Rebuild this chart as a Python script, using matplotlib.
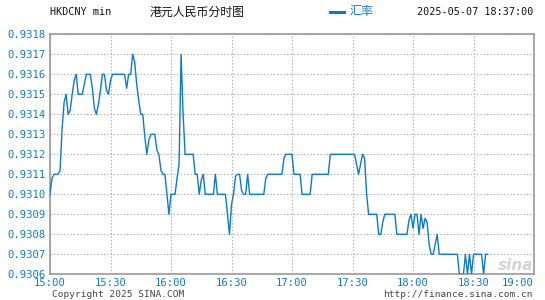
import numpy as np
import matplotlib
matplotlib.use("Agg")
import matplotlib.pyplot as plt

# HKD/CNY minute rate from 15:00, one value per minute
rates = [
    0.93100, 0.93108, 0.93110, 0.93110, 0.93110, 0.93112, 0.93133, 0.93146, 0.93150, 0.93140,
    0.93142, 0.93150, 0.93157, 0.93160, 0.93150, 0.93150, 0.93150, 0.93155, 0.93160, 0.93160,
    0.93160, 0.93153, 0.93143, 0.93140, 0.93145, 0.93152, 0.93160, 0.93160, 0.93152, 0.93150,
    0.93157, 0.93160, 0.93160, 0.93160, 0.93160, 0.93160, 0.93160, 0.93160, 0.93153, 0.93160,
    0.93160, 0.93170, 0.93166, 0.93155, 0.93147, 0.93140, 0.93140, 0.93129, 0.93120, 0.93127,
    0.93130, 0.93130, 0.93130, 0.93122, 0.93120, 0.93112, 0.93110, 0.93110, 0.93100, 0.93090,
    0.93100, 0.93100, 0.93100, 0.93108, 0.93115, 0.93170, 0.93140, 0.93120, 0.93120, 0.93120,
    0.93120, 0.93120, 0.93110, 0.93110, 0.93100, 0.93107, 0.93110, 0.93100, 0.93100, 0.93100,
    0.93100, 0.93100, 0.93110, 0.93100, 0.93100, 0.93100, 0.93100, 0.93100, 0.93090, 0.93080,
    0.93095, 0.93100, 0.93109, 0.93110, 0.93110, 0.93102, 0.93100, 0.93100, 0.93110, 0.93100,
    0.93100, 0.93100, 0.93100, 0.93100, 0.93100, 0.93100, 0.93100, 0.93108, 0.93110, 0.93110,
    0.93110, 0.93110, 0.93110, 0.93110, 0.93110, 0.93110, 0.93118, 0.93120, 0.93120, 0.93120,
    0.93120, 0.93110, 0.93110, 0.93110, 0.93110, 0.93100, 0.93100, 0.93100, 0.93100, 0.93100,
    0.93110, 0.93110, 0.93110, 0.93110, 0.93110, 0.93110, 0.93110, 0.93110, 0.93110, 0.93120,
    0.93120, 0.93120, 0.93120, 0.93120, 0.93120, 0.93120, 0.93120, 0.93120, 0.93120, 0.93120,
    0.93120, 0.93120, 0.93115, 0.93110, 0.93115, 0.93120, 0.93118, 0.93100, 0.93090, 0.93090,
    0.93090, 0.93090, 0.93090, 0.93080, 0.93080, 0.93086, 0.93090, 0.93090, 0.93090, 0.93090,
    0.93090, 0.93090, 0.93080, 0.93080, 0.93080, 0.93080, 0.93080, 0.93080, 0.93087, 0.93090,
    0.93083, 0.93090, 0.93090, 0.93080, 0.93090, 0.93083, 0.93088, 0.93086, 0.93075, 0.93070,
    0.93070, 0.93075, 0.93080, 0.93070, 0.93070, 0.93070, 0.93070, 0.93070, 0.93070, 0.93070,
    0.93070, 0.93070, 0.93070, 0.93060, 0.93060, 0.93060, 0.93070, 0.93060, 0.93070, 0.93060,
    0.93070, 0.93070, 0.93070, 0.93070, 0.93070, 0.93060, 0.93070, 0.93070,
]

y_ticks = [0.9306, 0.9307, 0.9308, 0.9309, 0.9310, 0.9311, 0.9312,
           0.9313, 0.9314, 0.9315, 0.9316, 0.9317, 0.9318]
x_tick_minutes = [0, 30, 60, 90, 120, 150, 180, 210, 240]
x_tick_labels = ["15:00", "15:30", "16:00", "16:30", "17:00",
                 "17:30", "18:00", "18:30", "19:00"]

BLUE = "#0a7acc"
GRID = "#aaaaaa"
MONO = "DejaVu Sans Mono"
CJK = ["Noto Sans CJK SC", "DejaVu Sans"]

W, H = 545, 300
fig = plt.figure(figsize=(W / 100, H / 100), dpi=100)
fig.patch.set_facecolor("white")

left, right, top, bottom = 50, 534, 34.3, 274.3
ax = fig.add_axes([left / W, 1 - bottom / H, (right - left) / W, (bottom - top) / H])

minutes = np.arange(len(rates))
ax.plot(minutes, rates, color=BLUE, linewidth=1.0, zorder=3)

ax.set_xlim(0, 240)
ax.set_ylim(y_ticks[0], y_ticks[-1])
ax.set_xticks(x_tick_minutes)
ax.set_xticklabels(x_tick_labels)
ax.set_yticks(y_ticks)
ax.set_yticklabels([f"{v:.4f}" for v in y_ticks])
ax.tick_params(length=0, pad=3, labelcolor=BLUE, labelsize=7.6)
for lab in ax.get_xticklabels() + ax.get_yticklabels():
    lab.set_family(MONO)
ax.tick_params(axis="x", pad=3)
# last time label sits inside the frame
ax.get_xticklabels()[-1].set_ha("right")

ax.grid(True, color=GRID, linestyle=(0, (1.2, 1.8)), linewidth=0.8)
for s in ax.spines.values():
    s.set_color("#999999")
    s.set_linewidth(1.2)

# header texts
fig.text(50 / W, 1 - 12 / H, "HKDCNY min", family=MONO, fontsize=7.3,
         color="#111111", va="center", ha="left")
fig.text(150 / W, 1 - 12 / H, "港元人民币分时图", family=CJK, fontsize=8.6,
         color="#111111", va="center", ha="left")
fig.add_artist(plt.Line2D([330 / W, 344 / W], [1 - 11.5 / H, 1 - 11.5 / H],
                          color=BLUE, linewidth=2.2, transform=fig.transFigure))
fig.text(350 / W, 1 - 12 / H, "汇率", family=CJK, fontsize=8.6,
         color=BLUE, va="center", ha="left")
fig.text(533 / W, 1 - 12 / H, "2025-05-07 18:37:00", family=MONO, fontsize=7.3,
         color="#111111", va="center", ha="right")

# footer
fig.text(52 / W, 1 - 294.5 / H, "Copyright 2025 SINA.COM", family=MONO, fontsize=6.8,
         color="#444444", va="center", ha="left")
fig.text(533 / W, 1 - 294.5 / H, "http://finance.sina.com.cn", family=MONO, fontsize=6.8,
         color="#444444", va="center", ha="right")

# faint watermark
fig.text(516 / W, 1 - 265 / H, "sina", family="DejaVu Sans", fontsize=11,
         fontweight="bold", style="italic", color="#c8c8c8", alpha=0.8,
         va="center", ha="center", zorder=1)

fig.savefig("out.png", dpi=100, facecolor="white")
